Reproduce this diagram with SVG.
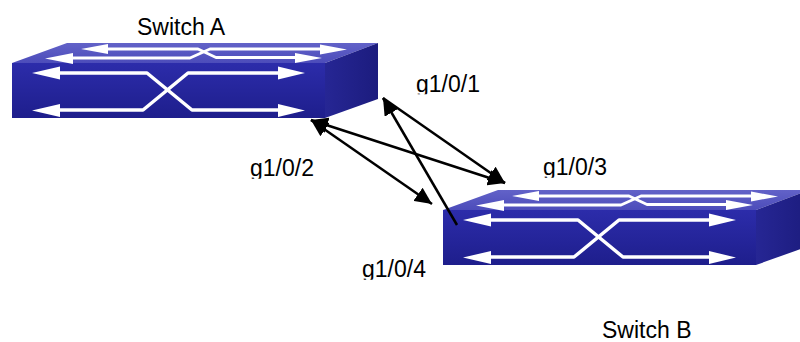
<svg xmlns="http://www.w3.org/2000/svg" width="800" height="342" viewBox="0 0 800 342">
<style>
.lbl{font-family:"Liberation Sans",Arial,sans-serif;font-size:23px;fill:#000}
.wl{fill:none;stroke:#fff;stroke-width:3.5;stroke-linejoin:round}
.wlt{fill:none;stroke:#fff;stroke-width:2.8;stroke-linejoin:round}
.wh{fill:#fff}
.conn{fill:none;stroke:#000;stroke-width:2.5}
</style>
<defs>
<linearGradient id="gFront" x1="0" y1="0" x2="0" y2="1">
<stop offset="0" stop-color="#2c2caa"/>
<stop offset="1" stop-color="#1e1e8c"/>
</linearGradient>
<linearGradient id="gTop" x1="0" y1="0" x2="0" y2="1">
<stop offset="0" stop-color="#6262c8"/>
<stop offset="1" stop-color="#4c4cba"/>
</linearGradient>
<linearGradient id="gSide" x1="0" y1="0" x2="1" y2="0">
<stop offset="0" stop-color="#262694"/>
<stop offset="1" stop-color="#1c1c7e"/>
</linearGradient>
<clipPath id="cut" clipPathUnits="objectBoundingBox">
<rect x="-0.1" y="-0.1" width="1.2" height="1.01"/>
</clipPath>
<marker id="ah" markerUnits="userSpaceOnUse" markerWidth="18" markerHeight="16" viewBox="0 0 18 16" refX="17" refY="8" orient="auto-start-reverse">
<path d="M0,0 L17,8 L0,16 Z" fill="#000"/>
</marker>
<g id="sw">
<polygon points="12,63 67,43 378,43 325,63" fill="url(#gTop)"/>
<rect x="12" y="63" width="313" height="55" fill="url(#gFront)"/>
<polygon points="325,63 378,43 378,99 325,118" fill="url(#gSide)"/>
<path class="wlt" d="M106,49 H198 L216,57.5 H298"/>
<path class="wlt" d="M72,58 H190 L210,49 H322"/>
<polygon class="wh" points="81,49 108,44 108,54"/>
<polygon class="wh" points="45,58.5 73,53 73,64"/>
<polygon class="wh" points="347,49.5 320,44.5 320,54.5"/>
<polygon class="wh" points="322,58 295,53 295,63"/>
<path class="wl" d="M58,73 H147 L192,110 H282"/>
<path class="wl" d="M58,110 H143 L188,73 H282"/>
<polygon class="wh" points="32,73 60,66.5 60,79.5"/>
<polygon class="wh" points="32,110.5 60,104 60,117"/>
<polygon class="wh" points="305,73 278,66.5 278,79.5"/>
<polygon class="wh" points="305,110.5 278,104 278,117"/>
</g>
</defs>
<rect width="800" height="342" fill="#fff"/>
<g id="switch-a">
<use href="#sw"/>
<text class="lbl" x="137" y="35">Switch A</text>
</g>
<g id="switch-b">
<use href="#sw" transform="translate(431,147)"/>
<text class="lbl" x="602" y="338">Switch B</text>
</g>
<g id="connectors">
<line class="conn" x1="383" y1="98" x2="505" y2="183" marker-end="url(#ah)"/>
<line class="conn" x1="311" y1="120" x2="505" y2="183" marker-start="url(#ah)" marker-end="url(#ah)"/>
<line class="conn" x1="311" y1="120" x2="432" y2="204" marker-start="url(#ah)" marker-end="url(#ah)"/>
<line class="conn" x1="457" y1="225" x2="383" y2="98" marker-end="url(#ah)"/>
</g>
<g id="labels">
<text class="lbl" x="416" y="91.5" clip-path="url(#cut)">g1/0/1</text>
<text class="lbl" x="250" y="176" clip-path="url(#cut)">g1/0/2</text>
<text class="lbl" x="543" y="175" clip-path="url(#cut)">g1/0/3</text>
<text class="lbl" x="362" y="277" clip-path="url(#cut)">g1/0/4</text>
</g>
</svg>
